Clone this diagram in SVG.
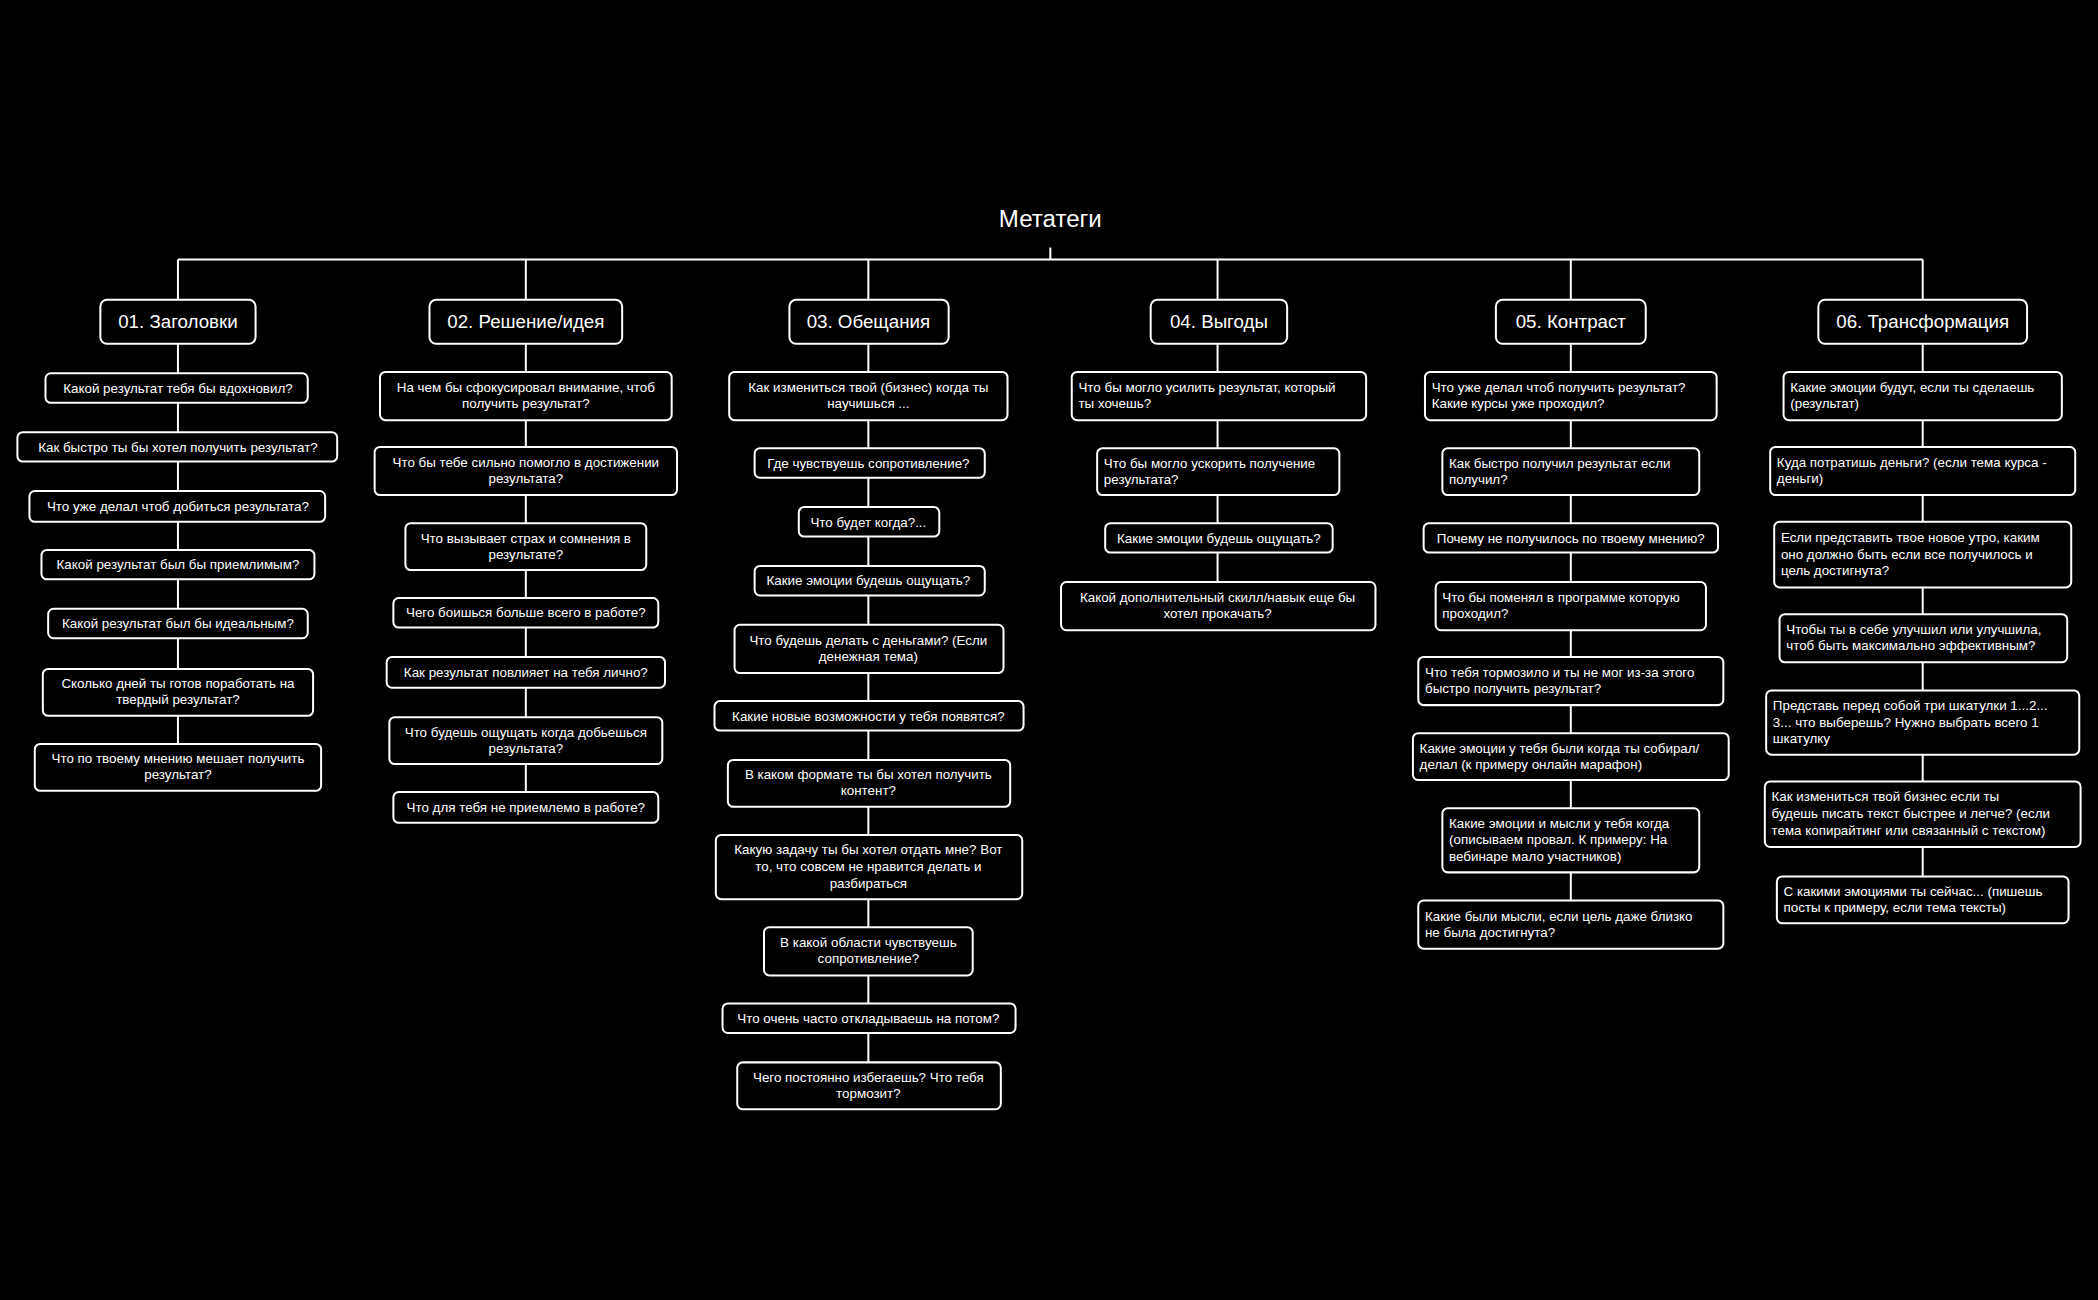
<svg xmlns="http://www.w3.org/2000/svg" width="2098" height="1300" viewBox="0 0 2098 1300">
<style>
.bg{fill:#000}
.box{fill:#000;stroke:#fff;stroke-width:1.5}
.ln{stroke:#fff;stroke-width:1.5;fill:none}
text{fill:#fff;font-family:"Liberation Sans",Arial,sans-serif}
.t{font-size:10px}
.c{text-anchor:middle}
.h{font-size:14px;text-anchor:middle}
.title{font-size:18px;text-anchor:middle}
</style>
<rect class="bg" x="0" y="0" width="2098" height="1300"/>
<g transform="scale(1.338)">
<g id="connectors">
<line class="ln" x1="785" y1="185" x2="785" y2="194"/>
<line class="ln" x1="133" y1="194" x2="1437" y2="194"/>
<line class="ln" x1="133" y1="194" x2="133" y2="556"/>
<line class="ln" x1="393" y1="194" x2="393" y2="592"/>
<line class="ln" x1="649" y1="194" x2="649" y2="794"/>
<line class="ln" x1="910" y1="194" x2="910" y2="435"/>
<line class="ln" x1="1174" y1="194" x2="1174" y2="673"/>
<line class="ln" x1="1437" y1="194" x2="1437" y2="655"/>
</g>
<g id="root"><text class="title" x="785" y="170">Метатеги</text></g>

<g id="h1"><rect class="box" x="75" y="224" width="116" height="33" rx="5"/><text class="h" x="133" y="245">01. Заголовки</text></g>
<g id="h2"><rect class="box" x="321" y="224" width="144" height="33" rx="5"/><text class="h" x="393" y="245">02. Решение/идея</text></g>
<g id="h3"><rect class="box" x="590" y="224" width="119" height="33" rx="5"/><text class="h" x="649" y="245">03. Обещания</text></g>
<g id="h4"><rect class="box" x="860" y="224" width="102" height="33" rx="5"/><text class="h" x="911" y="245">04. Выгоды</text></g>
<g id="h5"><rect class="box" x="1118" y="224" width="112" height="33" rx="5"/><text class="h" x="1174" y="245">05. Контраст</text></g>
<g id="h6"><rect class="box" x="1359" y="224" width="156" height="33" rx="5"/><text class="h" x="1437" y="245">06. Трансформация</text></g>

<!-- column 1 -->
<g id="c1n1"><rect class="box" x="34" y="279" width="196" height="22" rx="4"/><text class="t c" x="133" y="293.5">Какой результат тебя бы вдохновил?</text></g>
<g id="c1n2"><rect class="box" x="13" y="323" width="239" height="22" rx="4"/><text class="t c" x="133" y="337.5">Как быстро ты бы хотел получить результат?</text></g>
<g id="c1n3"><rect class="box" x="22" y="367" width="221" height="23" rx="4"/><text class="t c" x="133" y="382">Что уже делал чтоб добиться результата?</text></g>
<g id="c1n4"><rect class="box" x="31" y="411" width="204" height="22" rx="4"/><text class="t c" x="133" y="425.5">Какой результат был бы приемлимым?</text></g>
<g id="c1n5"><rect class="box" x="36" y="455" width="194" height="22" rx="4"/><text class="t c" x="133" y="469.5">Какой результат был бы идеальным?</text></g>
<g id="c1n6"><rect class="box" x="32" y="500" width="202" height="35" rx="4"/><text class="t c" x="133" y="514.5">Сколько дней ты готов поработать на<tspan x="133" dy="12">твердый результат?</tspan></text></g>
<g id="c1n7"><rect class="box" x="26" y="556" width="214" height="35" rx="4"/><text class="t c" x="133" y="570.5">Что по твоему мнению мешает получить<tspan x="133" dy="12">результат?</tspan></text></g>

<!-- column 2 -->
<g id="c2n1"><rect class="box" x="284" y="278" width="218" height="36" rx="4"/><text class="t c" x="393" y="293">На чем бы сфокусировал внимание, чтоб<tspan x="393" dy="12">получить результат?</tspan></text></g>
<g id="c2n2"><rect class="box" x="280" y="334" width="226" height="36" rx="4"/><text class="t c" x="393" y="349">Что бы тебе сильно помогло в достижении<tspan x="393" dy="12">результата?</tspan></text></g>
<g id="c2n3"><rect class="box" x="303" y="391" width="180" height="35" rx="4"/><text class="t c" x="393" y="405.5">Что вызывает страх и сомнения в<tspan x="393" dy="12">результате?</tspan></text></g>
<g id="c2n4"><rect class="box" x="294" y="447" width="198" height="22" rx="4"/><text class="t c" x="393" y="461.5">Чего боишься больше всего в работе?</text></g>
<g id="c2n5"><rect class="box" x="289" y="491" width="208" height="23" rx="4"/><text class="t c" x="393" y="506">Как результат повлияет на тебя лично?</text></g>
<g id="c2n6"><rect class="box" x="291" y="536" width="204" height="35" rx="4"/><text class="t c" x="393" y="550.5">Что будешь ощущать когда добьешься<tspan x="393" dy="12">результата?</tspan></text></g>
<g id="c2n7"><rect class="box" x="294" y="592" width="198" height="23" rx="4"/><text class="t c" x="393" y="607">Что для тебя не приемлемо в работе?</text></g>

<!-- column 3 -->
<g id="c3n1"><rect class="box" x="545" y="278" width="208" height="36" rx="4"/><text class="t c" x="649" y="293">Как измениться твой (бизнес) когда ты<tspan x="649" dy="12">научишься ...</tspan></text></g>
<g id="c3n2"><rect class="box" x="564" y="335" width="172" height="22" rx="4"/><text class="t c" x="649" y="349.5">Где чувствуешь сопротивление?</text></g>
<g id="c3n3"><rect class="box" x="597" y="379" width="105" height="22" rx="4"/><text class="t c" x="649" y="393.5">Что будет когда?...</text></g>
<g id="c3n4"><rect class="box" x="564" y="423" width="172" height="22" rx="4"/><text class="t c" x="649" y="437.5">Какие эмоции будешь ощущать?</text></g>
<g id="c3n5"><rect class="box" x="549" y="467" width="201" height="36" rx="4"/><text class="t c" x="649" y="482">Что будешь делать с деньгами? (Если<tspan x="649" dy="12">денежная тема)</tspan></text></g>
<g id="c3n6"><rect class="box" x="534" y="524" width="231" height="22" rx="4"/><text class="t c" x="649" y="538.5">Какие новые возможности у тебя появятся?</text></g>
<g id="c3n7"><rect class="box" x="544" y="568" width="211" height="35" rx="4"/><text class="t c" x="649" y="582.5">В каком формате ты бы хотел получить<tspan x="649" dy="12">контент?</tspan></text></g>
<g id="c3n8"><rect class="box" x="535" y="624" width="229" height="48" rx="4"/><text class="t c" x="649" y="638.5">Какую задачу ты бы хотел отдать мне? Вот<tspan x="649" dy="12.5">то, что совсем не нравится делать и</tspan><tspan x="649" dy="12.5">разбираться</tspan></text></g>
<g id="c3n9"><rect class="box" x="571" y="693" width="156" height="36" rx="4"/><text class="t c" x="649" y="708">В какой области чувствуешь<tspan x="649" dy="12">сопротивление?</tspan></text></g>
<g id="c3n10"><rect class="box" x="540" y="750" width="219" height="22" rx="4"/><text class="t c" x="649" y="764.5">Что очень часто откладываешь на потом?</text></g>
<g id="c3n11"><rect class="box" x="551" y="794" width="197" height="35" rx="4"/><text class="t c" x="649" y="808.5">Чего постоянно избегаешь? Что тебя<tspan x="649" dy="12">тормозит?</tspan></text></g>

<!-- column 4 -->
<g id="c4n1"><rect class="box" x="801" y="278" width="220" height="36" rx="4"/><text class="t" x="806" y="293">Что бы могло усилить результат, который<tspan x="806" dy="12">ты хочешь?</tspan></text></g>
<g id="c4n2"><rect class="box" x="820" y="335" width="181" height="35" rx="4"/><text class="t" x="825" y="349.5">Что бы могло ускорить получение<tspan x="825" dy="12">результата?</tspan></text></g>
<g id="c4n3"><rect class="box" x="826" y="391" width="170" height="22" rx="4"/><text class="t c" x="911" y="405.5">Какие эмоции будешь ощущать?</text></g>
<g id="c4n4"><rect class="box" x="793" y="435" width="235" height="36" rx="4"/><text class="t c" x="910" y="450">Какой дополнительный скилл/навык еще бы<tspan x="910" dy="12">хотел прокачать?</tspan></text></g>

<!-- column 5 -->
<g id="c5n1"><rect class="box" x="1065" y="278" width="218" height="36" rx="4"/><text class="t" x="1070" y="293">Что уже делал чтоб получить результат?<tspan x="1070" dy="12">Какие курсы уже проходил?</tspan></text></g>
<g id="c5n2"><rect class="box" x="1078" y="335" width="192" height="35" rx="4"/><text class="t" x="1083" y="349.5">Как быстро получил результат если<tspan x="1083" dy="12">получил?</tspan></text></g>
<g id="c5n3"><rect class="box" x="1064" y="391" width="220" height="22" rx="4"/><text class="t c" x="1174" y="405.5">Почему не получилось по твоему мнению?</text></g>
<g id="c5n4"><rect class="box" x="1073" y="435" width="202" height="36" rx="4"/><text class="t" x="1078" y="450">Что бы поменял в программе которую<tspan x="1078" dy="12">проходил?</tspan></text></g>
<g id="c5n5"><rect class="box" x="1060" y="491" width="228" height="36" rx="4"/><text class="t" x="1065" y="506">Что тебя тормозило и ты не мог из-за этого<tspan x="1065" dy="12">быстро получить результат?</tspan></text></g>
<g id="c5n6"><rect class="box" x="1056" y="548" width="236" height="35" rx="4"/><text class="t" x="1061" y="562.5">Какие эмоции у тебя были когда ты собирал/<tspan x="1061" dy="12">делал (к примеру онлайн марафон)</tspan></text></g>
<g id="c5n7"><rect class="box" x="1078" y="604" width="192" height="48" rx="4"/><text class="t" x="1083" y="618.5">Какие эмоции и мысли у тебя когда<tspan x="1083" dy="12.5">(описываем провал. К примеру: На</tspan><tspan x="1083" dy="12.5">вебинаре мало участников)</tspan></text></g>
<g id="c5n8"><rect class="box" x="1060" y="673" width="228" height="36" rx="4"/><text class="t" x="1065" y="688">Какие были мысли, если цель даже близко<tspan x="1065" dy="12">не была достигнута?</tspan></text></g>

<!-- column 6 -->
<g id="c6n1"><rect class="box" x="1333" y="278" width="208" height="36" rx="4"/><text class="t" x="1338" y="293">Какие эмоции будут, если ты сделаешь<tspan x="1338" dy="12">(результат)</tspan></text></g>
<g id="c6n2"><rect class="box" x="1323" y="334" width="228" height="36" rx="4"/><text class="t" x="1328" y="349">Куда потратишь деньги? (если тема курса -<tspan x="1328" dy="12">деньги)</tspan></text></g>
<g id="c6n3"><rect class="box" x="1326" y="390" width="222" height="49" rx="4"/><text class="t" x="1331" y="405">Если представить твое новое утро, каким<tspan x="1331" dy="12.5">оно должно быть если все получилось и</tspan><tspan x="1331" dy="12.5">цель достигнута?</tspan></text></g>
<g id="c6n4"><rect class="box" x="1330" y="459" width="215" height="36" rx="4"/><text class="t" x="1335" y="474">Чтобы ты в себе улучшил или улучшила,<tspan x="1335" dy="12">чтоб быть максимально эффективным?</tspan></text></g>
<g id="c6n5"><rect class="box" x="1320" y="516" width="234" height="48" rx="4"/><text class="t" x="1325" y="530.5">Представь перед собой три шкатулки 1...2...<tspan x="1325" dy="12.5">3... что выберешь? Нужно выбрать всего 1</tspan><tspan x="1325" dy="12.5">шкатулку</tspan></text></g>
<g id="c6n6"><rect class="box" x="1319" y="584" width="236" height="49" rx="4"/><text class="t" x="1324" y="599">Как измениться твой бизнес если ты<tspan x="1324" dy="12.5">будешь писать текст быстрее и легче? (если</tspan><tspan x="1324" dy="12.5">тема копирайтинг или связанный с текстом)</tspan></text></g>
<g id="c6n7"><rect class="box" x="1328" y="655" width="218" height="35" rx="4"/><text class="t" x="1333" y="669.5">С какими эмоциями ты сейчас... (пишешь<tspan x="1333" dy="12">посты к примеру, если тема тексты)</tspan></text></g>
</g>
</svg>
